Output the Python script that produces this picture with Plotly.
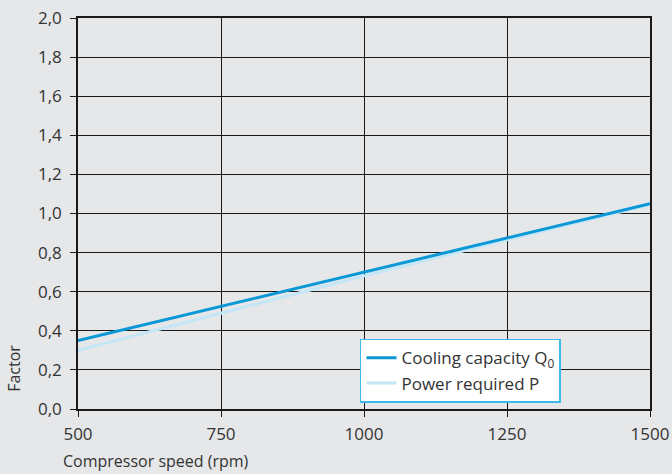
import plotly.graph_objects as go

speed = [500, 750, 1000, 1250, 1500]
cooling_capacity = [0.35, 0.525, 0.70, 0.875, 1.05]
power_required = [0.30, 0.49, 0.68, 0.865, 1.045]

BG = "#e6e7e9"
FONT = "Open Sans, Lato, sans-serif"
TEXT = "#333333"

fig = go.Figure()

# power drawn first so the darker line sits on top
fig.add_trace(go.Scatter(
    x=speed, y=power_required, mode="lines", name="Power required P",
    line=dict(color="#c4e6f7", width=3), legendrank=2,
))
fig.add_trace(go.Scatter(
    x=speed, y=cooling_capacity, mode="lines", name="Cooling capacity Q<sub>0</sub>",
    line=dict(color="#0a98d6", width=3), legendrank=1,
))

fig.update_layout(
    width=672, height=474,
    paper_bgcolor=BG, plot_bgcolor=BG,
    margin=dict(l=78, r=22, t=18, b=65),
    font=dict(family=FONT, size=17, color=TEXT),
    separators=",.",
    showlegend=True,
    legend=dict(
        x=0.493, y=0.016, xanchor="left", yanchor="bottom",
        bgcolor="white", bordercolor="#3bb9e8", borderwidth=1.5,
        font=dict(size=17, color=TEXT),
        tracegroupgap=0, itemwidth=30,
    ),
)

fig.update_xaxes(
    range=[500, 1500], tickvals=[500, 750, 1000, 1250, 1500],
    showgrid=True, gridcolor="#1a1a1a", gridwidth=1,
    showline=True, linecolor="#1a1a1a", linewidth=2, mirror=True,
    ticks="outside", ticklen=6, tickcolor="#1a1a1a", zeroline=False,
    ticklabelstandoff=3, automargin=False,
)
fig.update_yaxes(
    range=[0, 2.0], dtick=0.2, tickformat=".1f",
    showgrid=True, gridcolor="#1a1a1a", gridwidth=1,
    showline=True, linecolor="#1a1a1a", linewidth=1.5, mirror=True,
    ticks="outside", ticklen=6, tickcolor="#1a1a1a", zeroline=False,
    ticklabelstandoff=5, automargin=False,
)

fig.add_annotation(
    text="Factor", xref="paper", yref="paper", x=-0.112, y=0.04,
    xanchor="center", yanchor="bottom", textangle=-90, showarrow=False,
    font=dict(size=16, color=TEXT),
)
fig.add_annotation(
    text="Compressor speed (rpm)", xref="paper", yref="paper", x=-0.03, y=-0.134,
    xanchor="left", yanchor="middle", showarrow=False,
    font=dict(size=16, color=TEXT),
)

fig.write_html(
    "out.html",
    config={"displayModeBar": False},
    post_script="document.body.style.margin='0';document.body.style.overflow='hidden';",
)
